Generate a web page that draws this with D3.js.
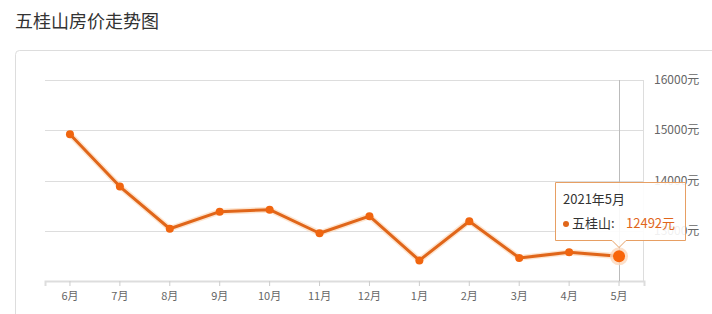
<!DOCTYPE html>
<html>
<head>
<meta charset="utf-8">
<script src="https://cdn.jsdelivr.net/npm/d3@7"></script>
<style>
  body { margin: 0; background: #fff; font-family: "Microsoft YaHei", "Noto Sans CJK SC", sans-serif; }
</style>
</head>
<body>
<svg id="chart" width="712" height="314"></svg>
<script>
const months = ['6月', '7月', '8月', '9月', '10月', '11月', '12月', '1月', '2月', '3月', '4月', '5月']
const prices = [14920, 13880, 13040, 13380, 13420, 12950, 13290, 12410, 13190, 12460, 12570, 12492]
const yTicks = [12000, 13000, 14000, 15000, 16000]
const seriesName = '五桂山'
const tipTitle = '2021年5月'

const svg = d3.select('#chart')
const font = '"Microsoft YaHei", "Noto Sans CJK SC", sans-serif'

svg.append('text')
  .attr('x', 15)
  .attr('y', 28)
  .attr('font-size', 18)
  .attr('fill', '#333')
  .attr('font-family', font)
  .text('五桂山房价走势图')

// card border
svg.append('rect')
  .attr('x', 15.5).attr('y', 50.5)
  .attr('width', 720).attr('height', 300)
  .attr('rx', 4)
  .attr('fill', 'none')
  .attr('stroke', '#ddd')

const x = d3.scaleBand().domain(months).range([45, 644])
const y = d3.scaleLinear().domain([12000, 16000]).range([281, 80])
const cx = d => x(d) + x.bandwidth() / 2

// grid lines
svg.append('g')
  .selectAll('line')
  .data(yTicks.slice(1))
  .enter()
  .append('line')
  .attr('x1', 45).attr('x2', 644)
  .attr('y1', d => Math.round(y(d)) + 0.5)
  .attr('y2', d => Math.round(y(d)) + 0.5)
  .attr('stroke', '#ddd')

// right border of plot
svg.append('line')
  .attr('x1', 643.5).attr('x2', 643.5)
  .attr('y1', y(16000)).attr('y2', y(12000))
  .attr('stroke', '#ddd')

// y labels on the right
svg.append('g')
  .selectAll('text')
  .data(yTicks.slice(1))
  .enter()
  .append('text')
  .attr('x', 654)
  .attr('y', d => y(d) + 4)
  .attr('font-size', 12)
  .attr('fill', '#666')
  .attr('font-family', font)
  .text(d => d + '元')

// x axis
const xAxis = svg.append('g')
  .attr('transform', `translate(0, ${y(12000)})`)
  .call(d3.axisBottom(x).tickSize(5).tickPadding(6))
xAxis.select('.domain').attr('stroke', '#ddd').attr('stroke-width', 2)
xAxis.selectAll('.tick line').attr('stroke', '#ccc')
xAxis.selectAll('.tick text')
  .attr('font-size', 11)
  .attr('fill', '#666')
  .attr('font-family', font)

// crosshair
svg.append('line')
  .attr('x1', Math.round(cx('5月')) + 0.5).attr('x2', Math.round(cx('5月')) + 0.5)
  .attr('y1', y(16000)).attr('y2', y(12000))
  .attr('stroke', '#bbb')

const line = d3.line()
  .x((d, i) => cx(months[i]))
  .y(d => y(d))

svg.append('path')
  .datum(prices)
  .attr('d', line)
  .attr('fill', 'none')
  .attr('stroke', '#fbd3b0')
  .attr('stroke-width', 6)
  .attr('stroke-linejoin', 'round')
  .attr('opacity', 0.6)

svg.append('path')
  .datum(prices)
  .attr('d', line)
  .attr('fill', 'none')
  .attr('stroke', '#e0661a')
  .attr('stroke-width', 3)
  .attr('stroke-linejoin', 'round')

svg.append('g')
  .selectAll('circle')
  .data(prices.slice(0, -1))
  .enter()
  .append('circle')
  .attr('cx', (d, i) => cx(months[i]))
  .attr('cy', d => y(d))
  .attr('r', 4)
  .attr('fill', '#f0650f')

// highlighted last point
const last = prices.length - 1
svg.append('circle')
  .attr('cx', cx(months[last])).attr('cy', y(prices[last]))
  .attr('r', 9).attr('fill', '#fbd7bb').attr('opacity', 0.8)
svg.append('circle')
  .attr('cx', cx(months[last])).attr('cy', y(prices[last]))
  .attr('r', 6).attr('fill', '#f8650a')

// tooltip
const tip = svg.append('g')
const tx = 555.5, ty = 182.5, tw = 130, th = 58, ax = cx(months[last])
tip.append('path')
  .attr('d', `M${tx},${ty} h${tw} v${th} H${ax + 7} l-7,7 l-7,-7 H${tx} Z`)
  .attr('fill', '#fff')
  .attr('fill-opacity', 0.9)
  .attr('stroke', '#e79f63')
  .attr('stroke-width', 1)
tip.append('text')
  .attr('x', 563).attr('y', 204)
  .attr('font-size', 13).attr('fill', '#333')
  .attr('font-family', font)
  .text(tipTitle)
tip.append('circle')
  .attr('cx', 566).attr('cy', 224).attr('r', 3)
  .attr('fill', '#e0661a')
tip.append('text')
  .attr('x', 572).attr('y', 228)
  .attr('font-size', 13).attr('fill', '#333')
  .attr('font-family', font)
  .text(seriesName + ':')
tip.append('text')
  .attr('x', 626).attr('y', 228)
  .attr('font-size', 13).attr('fill', '#e0661a')
  .attr('font-family', font)
  .text(prices[last] + '元')
</script>
</body>
</html>
